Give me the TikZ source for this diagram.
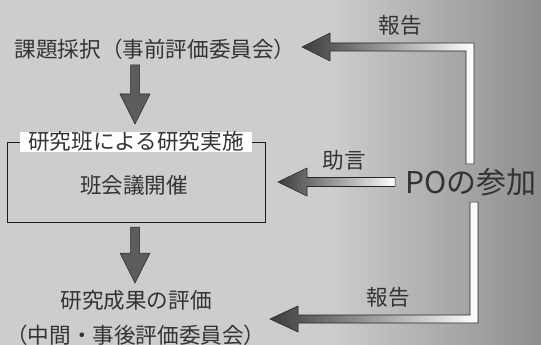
\documentclass[tikz,border=0pt]{standalone}
\usepackage{fontspec}
\newfontfamily\jp{Noto Sans CJK JP}
\usetikzlibrary{calc}
\definecolor{txt}{HTML}{333333}
\definecolor{arrgray}{HTML}{5C5C5C}
\definecolor{arrdark}{HTML}{3C3C3C}
\definecolor{bgl}{HTML}{CDCDCD}
\definecolor{bgm}{HTML}{C6C6C6}
\definecolor{bgr}{HTML}{8E8E8E}
\begin{document}
\begin{tikzpicture}[x=1pt,y=-1pt,
  lbl/.style={text=txt,font=\jp\fontsize{21.6}{22}\selectfont,inner sep=0pt},
  bigl/.style={text=txt,font=\jp\fontsize{30}{30}\selectfont,inner sep=0pt},
  downarr/.style={fill=arrgray,draw=black!85,line width=0.5pt},
  fadearr/.style={left color=arrdark,middle color=black!60,right color=white,draw=black!85,line width=0.6pt},
  framebox/.style={draw=black!90,line width=0.8pt,minimum width=258pt,minimum height=80pt,inner sep=0pt}]
% background
\fill[bgl] (0,0) rectangle (541,345);
\shade[left color=bgl,right color=bgr] (330,0) rectangle (541,345);
\useasboundingbox (0,0) rectangle (541,345);
% left column
\node[lbl] (top) at (155,49) {課題採択（事前評価委員会）};
\node[framebox] (box) at (136,182) {};
\node[lbl,fill=white,inner xsep=8pt,inner ysep=0pt] (title) at (box.north) {研究班による研究実施};
\node[lbl] (meet) at (134,185) {班会議開催};
\node[lbl] (res1) at (136,300) {研究成果の評価};
\node[lbl] (res2) at (136,335) {（中間・事後評価委員会）};
% right column
\node[bigl] (po) at (471,182) {POの参加};
\node[lbl] (rep1) at (400,25) {報告};
\node[lbl] (adv) at (344,160) {助言};
\node[lbl] (rep2) at (388,297) {報告};
% down arrows
\coordinate (d1s) at (135,65);
\coordinate (d1e) at (135,124);
\coordinate (d2s) at (135,227);
\coordinate (d2e) at (135,283);
\foreach \s/\e in {d1s/d1e,d2s/d2e}{
  \draw[downarr] ($(\s)+(-4.5,0)$) -- ($(\s)+(4.5,0)$) -- ($(\e)+(4.5,-30)$) -- ($(\e)+(15,-30)$)
    -- (\e) -- ($(\e)+(-15,-30)$) -- ($(\e)+(-4.5,-30)$) -- cycle;
}
% PO -> top (report)
\coordinate (t1) at (302,47);
\coordinate (c1) at (po.north);
\draw[fadearr] (t1) -- ($(t1)+(28,-14)$) -- ($(t1)+(28,-4)$) -- ($(c1|-t1)+(3,-4)$)
  -- ($(c1)+(3,-4)$) -- ($(c1)+(-5,-4)$) -- ($(c1|-t1)+(-5,4)$) -- ($(t1)+(28,4)$)
  -- ($(t1)+(28,14)$) -- cycle;
% PO -> box (advice)
\coordinate (t2) at (278,182);
\draw[fadearr] (t2) -- ($(t2)+(29,-14)$) -- ($(t2)+(29,-4.5)$) -- ($(po.west|-t2)+(-10,-4.5)$)
  -- ($(po.west|-t2)+(-10,4.5)$) -- ($(t2)+(29,4.5)$) -- ($(t2)+(29,14)$) -- cycle;
% PO -> result (report)
\coordinate (t3) at (270,319);
\coordinate (c3) at (po.south);
\draw[fadearr] (t3) -- ($(t3)+(28,-13)$) -- ($(t3)+(28,-4)$) -- ($(c3|-t3)+(-1,-4)$)
  -- ($(c3)+(-1,6)$) -- ($(c3)+(7,6)$) -- ($(c3|-t3)+(7,4)$) -- ($(t3)+(28,4)$)
  -- ($(t3)+(28,13)$) -- cycle;
\end{tikzpicture}
\end{document}
